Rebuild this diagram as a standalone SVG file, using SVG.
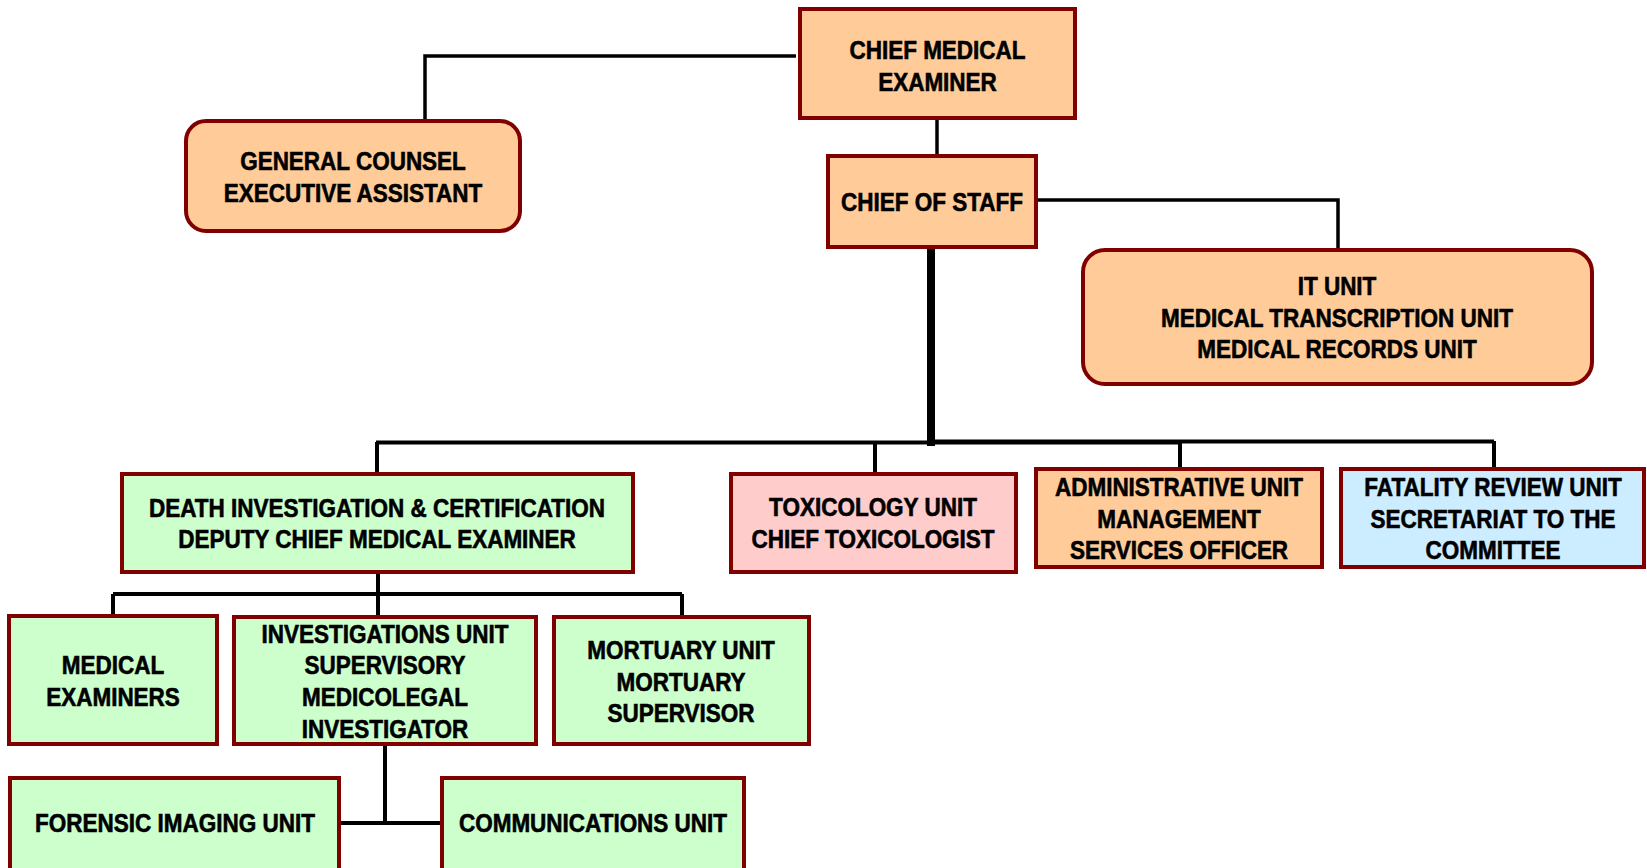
<svg xmlns="http://www.w3.org/2000/svg" width="1647" height="868" viewBox="0 0 1647 868">
<style>
.box{stroke:#800000;stroke-width:4}
.or{fill:#FFCC99}.gr{fill:#CCFFCC}.pk{fill:#FFCCCC}.bl{fill:#CCECFF}
.t{font-family:"Liberation Sans",Arial,sans-serif;font-weight:bold;font-size:25px;fill:#000;stroke:#000;stroke-width:0.6;text-anchor:middle}
.c{fill:none;stroke:#000;stroke-width:4}
.c3{stroke-width:3.5}
.c8{stroke-width:8}
</style>
<rect width="1647" height="868" fill="#fff"/>
<g id="connectors">
<path class="c c3" d="M796 56H425V119"/>
<path class="c c3" d="M937 120V154"/>
<path class="c c3" d="M1036 200H1338V248"/>
<path class="c c8" d="M931 249V446"/>
<path class="c" d="M376 442.5H1180"/>
<path class="c" d="M931 441.5H1494"/>
<path class="c" d="M377 442V472M875 442V472M1180 442V467M1494 441V467"/>
<path class="c" d="M378 574V615M113 594H682M113 594V614M682 594V615"/>
<path class="c" d="M385 746V823M341 823H440"/>
</g>
<g id="cme">
<rect class="box or" x="800" y="9" width="275" height="109"/>
<g transform="translate(937.5 0) scale(0.9 1)" class="t"><text x="0" y="59">CHIEF MEDICAL</text><text x="0" y="91">EXAMINER</text></g>
</g>
<g id="gc">
<rect class="box or" x="186" y="121" width="334" height="110" rx="20"/>
<g transform="translate(353 0) scale(0.9 1)" class="t"><text x="0" y="170">GENERAL COUNSEL</text><text x="0" y="202">EXECUTIVE ASSISTANT</text></g>
</g>
<g id="cos">
<rect class="box or" x="828" y="156" width="208" height="91"/>
<g transform="translate(932 0) scale(0.9 1)" class="t"><text x="0" y="211">CHIEF OF STAFF</text></g>
</g>
<g id="it">
<rect class="box or" x="1083" y="250" width="509" height="134" rx="22"/>
<g transform="translate(1337 0) scale(0.9 1)" class="t"><text x="0" y="295">IT UNIT</text><text x="0" y="327">MEDICAL TRANSCRIPTION UNIT</text><text x="0" y="358">MEDICAL RECORDS UNIT</text></g>
</g>
<g id="di">
<rect class="box gr" x="122" y="474" width="511" height="98"/>
<g transform="translate(377 0) scale(0.9 1)" class="t"><text x="0" y="517">DEATH INVESTIGATION &amp; CERTIFICATION</text><text x="0" y="548">DEPUTY CHIEF MEDICAL EXAMINER</text></g>
</g>
<g id="tox">
<rect class="box pk" x="731" y="474" width="285" height="98"/>
<g transform="translate(873 0) scale(0.9 1)" class="t"><text x="0" y="516">TOXICOLOGY UNIT</text><text x="0" y="548">CHIEF TOXICOLOGIST</text></g>
</g>
<g id="adm">
<rect class="box or" x="1036" y="469" width="286" height="98"/>
<g transform="translate(1179 0) scale(0.9 1)" class="t"><text x="0" y="496">ADMINISTRATIVE UNIT</text><text x="0" y="528">MANAGEMENT</text><text x="0" y="559">SERVICES OFFICER</text></g>
</g>
<g id="fat">
<rect class="box bl" x="1341" y="469" width="303" height="98"/>
<g transform="translate(1493 0) scale(0.9 1)" class="t"><text x="0" y="496">FATALITY REVIEW UNIT</text><text x="0" y="528">SECRETARIAT TO THE</text><text x="0" y="559">COMMITTEE</text></g>
</g>
<g id="me">
<rect class="box gr" x="9" y="616" width="208" height="128"/>
<g transform="translate(113 0) scale(0.9 1)" class="t"><text x="0" y="674">MEDICAL</text><text x="0" y="706">EXAMINERS</text></g>
</g>
<g id="inv">
<rect class="box gr" x="234" y="617" width="302" height="127"/>
<g transform="translate(385 0) scale(0.9 1)" class="t"><text x="0" y="643">INVESTIGATIONS UNIT</text><text x="0" y="674">SUPERVISORY</text><text x="0" y="706">MEDICOLEGAL</text><text x="0" y="738">INVESTIGATOR</text></g>
</g>
<g id="mor">
<rect class="box gr" x="554" y="617" width="255" height="127"/>
<g transform="translate(681 0) scale(0.9 1)" class="t"><text x="0" y="659">MORTUARY UNIT</text><text x="0" y="691">MORTUARY</text><text x="0" y="722">SUPERVISOR</text></g>
</g>
<g id="for">
<rect class="box gr" x="10" y="778" width="329" height="100"/>
<g transform="translate(175 0) scale(0.9 1)" class="t"><text x="0" y="832">FORENSIC IMAGING UNIT</text></g>
</g>
<g id="com">
<rect class="box gr" x="442" y="778" width="302" height="100"/>
<g transform="translate(593 0) scale(0.9 1)" class="t"><text x="0" y="832">COMMUNICATIONS UNIT</text></g>
</g>
</svg>
